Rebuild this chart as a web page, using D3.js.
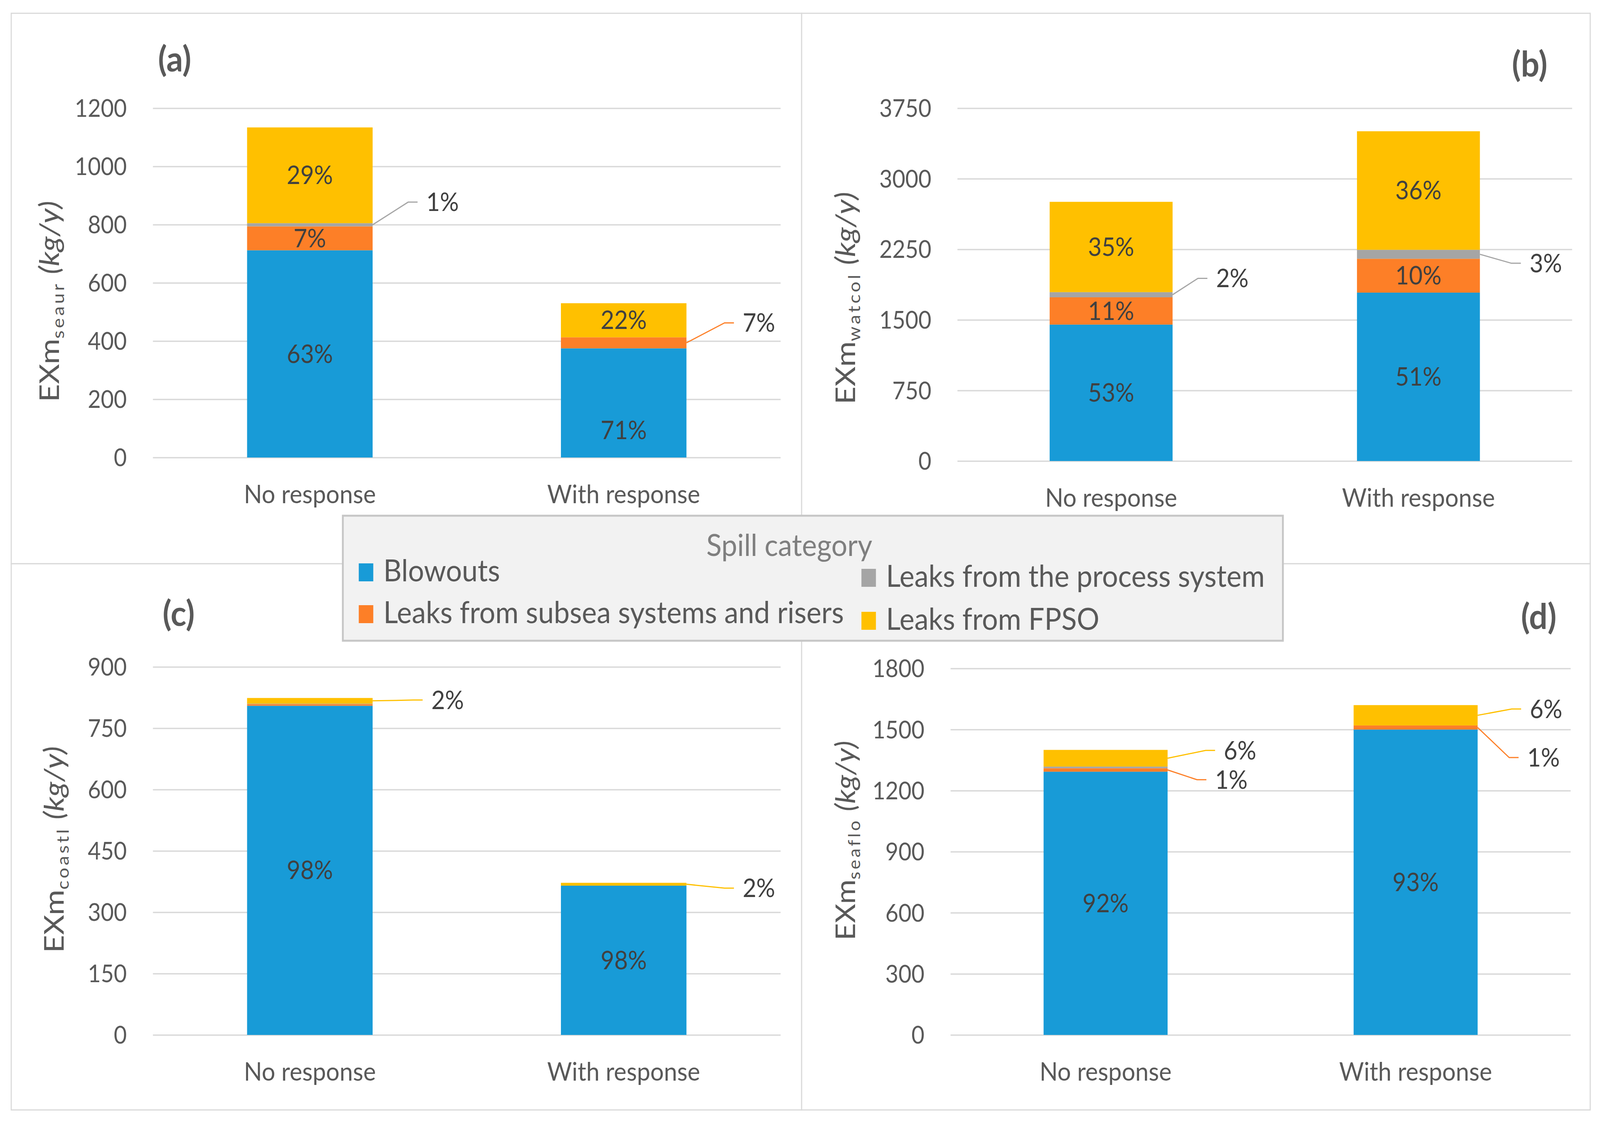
<!DOCTYPE html>
<html>
<head>
<meta charset="utf-8">
<script src="https://cdn.jsdelivr.net/npm/d3@7"></script>
<style>
  html, body { margin: 0; padding: 0; background: #fff; overflow: hidden; }
  svg { display: block; width: 100vw; height: 100vh; }
</style>
</head>
<body>
<svg id="chart"></svg>
<script>
// categories and series
var categories = ["No response", "With response"];
var seriesNames = ["Blowouts", "Leaks from subsea systems and risers",
                   "Leaks from the process system", "Leaks from FPSO"];
var seriesColors = ["#189bd7", "#fd7f27", "#a5a5a5", "#ffc000"];

// values per panel (a, b, c, d), each [No response, With response], kg/y
var blowouts   = [[712, 375], [1450, 1790], [805, 365], [1293, 1500]];
var subsea     = [[82, 38],   [290, 360],   [4, 0],     [17, 20]];
var processSys = [[11, 0],    [55, 95],     [1, 0],     [8, 0]];
var fpso       = [[329, 117], [960, 1260],  [14, 7],    [82, 100]];

var panelTags = ["(a)", "(b)", "(c)", "(d)"];
var subscripts = ["seaur", "watcol", "coastl", "seaflo"];
var yTicks = [
    [0, 200, 400, 600, 800, 1000, 1200],
    [0, 750, 1500, 2250, 3000, 3750],
    [0, 150, 300, 450, 600, 750, 900],
    [0, 300, 600, 900, 1200, 1500, 1800]
];

// layout of the four panels (pixels)
var W = 4415, H = 2877;
var panels = [
    { frame: [31, 34, 2212, 1443],   plot: [422, 277, 2154, 1171],   tag: [482, 183],   title: [163, 1029, 515] },
    { frame: [2212, 34, 4388, 1443], plot: [2642, 277, 4338, 1180],  tag: [4221, 196],  title: [2360, 1035, 544] },
    { frame: [31, 1443, 2212, 2841], plot: [422, 1707, 2154, 2649],  tag: [493, 1602],  title: [176, 2439, 529] },
    { frame: [2212, 1443, 4388, 2841], plot: [2623, 1711, 4334, 2649], tag: [4246, 1610], title: [2359, 2407, 511] }
];

// labels with leader lines: panel, category, series, elbow dx, elbow dy
var callouts = [
    [0, 0, 2, 98, -58], [0, 1, 1, 105, -51],
    [1, 0, 2, 70, -42], [1, 1, 2, 87, 23],
    [2, 0, 3, 112, -2], [2, 1, 3, 105, 10],
    [3, 0, 3, 105, -20], [3, 0, 1, 81, 25],
    [3, 1, 3, 94, -16], [3, 1, 1, 87, 77]
];
var labelNudges = [[0, 1, 0, 70]];

var font = "Lato, 'Open Sans', sans-serif";

var svg = d3.select('#chart')
    .attr('viewBox', '0 0 ' + W + ' ' + H)
    .attr('preserveAspectRatio', 'none')
    .style('font-family', font);

svg.append('rect').attr('width', W).attr('height', H).attr('fill', '#fff');

panels.forEach(function(pl, p) {
    var g = svg.append('g');
    var f = pl.frame, r = pl.plot;

    g.append('rect')
        .attr('x', f[0]).attr('y', f[1])
        .attr('width', f[2] - f[0]).attr('height', f[3] - f[1])
        .attr('fill', '#fff')
        .attr('stroke', '#d9d9d9')
        .attr('stroke-width', 3);

    var x = d3.scaleBand()
        .domain(categories)
        .range([r[0], r[2]])
        .paddingInner(0.6)
        .paddingOuter(0.3);

    var yMax = d3.max(yTicks[p]);
    var y = d3.scaleLinear().domain([0, yMax]).range([r[3], r[1]]);

    // gridlines + tick labels
    var yAxis = g.append('g')
        .attr('transform', 'translate(' + r[0] + ',0)')
        .call(d3.axisLeft(y).tickValues(yTicks[p]).tickFormat(d3.format('d'))
            .tickSize(-(r[2] - r[0])).tickPadding(72));
    yAxis.select('.domain').remove();
    yAxis.selectAll('.tick line').attr('stroke', '#d9d9d9').attr('stroke-width', 3.5);
    yAxis.selectAll('.tick text')
        .attr('fill', '#595959')
        .style('font-size', '62px')
        .style('font-family', font)
        .attr('dy', '0.35em');

    // category labels
    var xAxis = g.append('g')
        .attr('transform', 'translate(0,' + r[3] + ')')
        .call(d3.axisBottom(x).tickSize(0).tickPadding(70));
    xAxis.select('.domain').remove();
    xAxis.selectAll('.tick text')
        .attr('fill', '#595959')
        .style('font-size', '66px')
        .style('font-family', font);

    // stacked bars
    var rows = categories.map(function(c, i) {
        return { cat: c, 0: blowouts[p][i], 1: subsea[p][i], 2: processSys[p][i], 3: fpso[p][i] };
    });
    var stacked = d3.stack().keys([0, 1, 2, 3])(rows);

    var layers = g.selectAll('.layer')
        .data(stacked)
        .enter().append('g')
        .attr('class', 'layer')
        .attr('fill', function(d) { return seriesColors[d.key]; });

    layers.selectAll('rect')
        .data(function(d) { return d; })
        .enter().append('rect')
        .attr('x', function(d) { return x(d.data.cat); })
        .attr('width', x.bandwidth())
        .attr('y', function(d) { return y(d[1]); })
        .attr('height', function(d) { return y(d[0]) - y(d[1]); });

    // percent labels
    stacked.forEach(function(layer) {
        var s = layer.key;
        layer.forEach(function(d, ci) {
            var v = d[1] - d[0];
            if (v <= 0) return;
            var total = rows[ci][0] + rows[ci][1] + rows[ci][2] + rows[ci][3];
            var txt = Math.round(v / total * 100) + '%';
            var midY = y((d[0] + d[1]) / 2);
            var co = callouts.filter(function(c) { return c[0] === p && c[1] === ci && c[2] === s; })[0];
            if (co) {
                var x0 = x(d.data.cat) + x.bandwidth();
                var ex = x0 + co[3], ey = midY + co[4];
                g.append('path')
                    .attr('d', 'M' + x0 + ',' + midY + 'L' + ex + ',' + ey + 'L' + (ex + 26) + ',' + ey)
                    .attr('fill', 'none')
                    .attr('stroke', seriesColors[s])
                    .attr('stroke-width', 3);
                g.append('text')
                    .attr('x', ex + 50)
                    .attr('y', ey)
                    .attr('dy', '0.35em')
                    .attr('fill', '#404040')
                    .style('font-size', '65px')
                    .text(txt);
            } else if (y(d[0]) - y(d[1]) >= 40) {
                var nudge = labelNudges.filter(function(n) { return n[0] === p && n[1] === ci && n[2] === s; })[0];
                g.append('text')
                    .attr('x', x(d.data.cat) + x.bandwidth() / 2)
                    .attr('y', midY + (nudge ? nudge[3] : 0))
                    .attr('dy', '0.35em')
                    .attr('text-anchor', 'middle')
                    .attr('fill', '#404040')
                    .style('font-size', '65px')
                    .text(txt);
            }
        });
    });

    // panel tag
    g.append('text')
        .attr('x', pl.tag[0]).attr('y', pl.tag[1])
        .attr('text-anchor', 'middle')
        .attr('fill', '#595959')
        .style('font-size', '90px')
        .style('font-weight', 'bold')
        .text(panelTags[p]);

    // y axis title
    var t = g.append('text')
        .attr('transform', 'translate(' + pl.title[0] + ',' + pl.title[1] + ') rotate(-90)')
        .attr('fill', '#595959')
        .attr('textLength', pl.title[2])
        .attr('lengthAdjust', 'spacingAndGlyphs')
        .style('font-size', '76px');
    t.append('tspan').text('EXm');
    t.append('tspan').attr('dy', 14).style('font-size', '46px')
        .attr('letter-spacing', 6).text(subscripts[p]);
    t.append('tspan').attr('dy', -14).style('font-style', 'italic').text(' (kg/y)');
});

// legend
var legend = svg.append('g');
legend.append('rect')
    .attr('x', 946).attr('y', 1320)
    .attr('width', 3540 - 946).attr('height', 1640 - 1320)
    .attr('fill', '#f2f2f2')
    .attr('stroke', '#c6c6c6')
    .attr('stroke-width', 5);
legend.append('text')
    .attr('x', 2178).attr('y', 1423)
    .attr('text-anchor', 'middle')
    .attr('fill', '#7f7f7f')
    .style('font-size', '78px')
    .text('Spill category');

var legendPos = [[990, 1488], [990, 1595], [2377, 1502], [2377, 1612]];
seriesNames.forEach(function(name, i) {
    var lp = legendPos[i];
    legend.append('rect')
        .attr('x', lp[0]).attr('y', lp[1] - 46)
        .attr('width', 40).attr('height', 46)
        .attr('fill', seriesColors[i]);
    legend.append('text')
        .attr('x', lp[0] + 68).attr('y', lp[1])
        .attr('fill', '#595959')
        .style('font-size', '78px')
        .text(name);
});
</script>
</body>
</html>
